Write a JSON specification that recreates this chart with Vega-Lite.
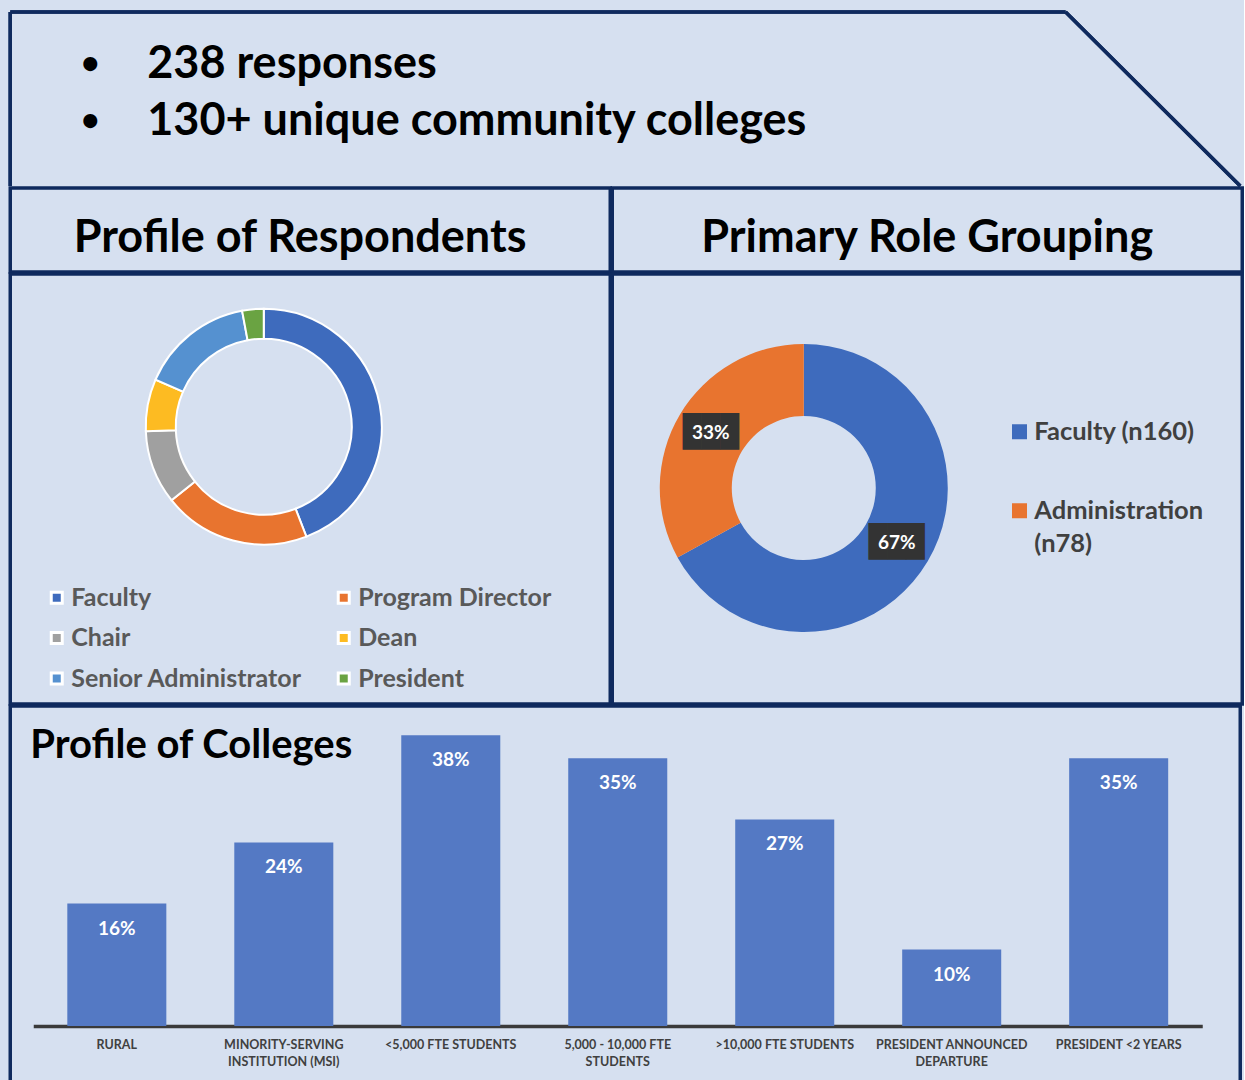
{
  "$schema": "https://vega.github.io/schema/vega-lite/v6.json",
  "background": "#d6e0f0",
  "padding": {"left": 8.25, "top": 10, "right": 0, "bottom": 0},
  "spacing": -5,
  "config": {
    "view": {"stroke": "#0f2a5e", "strokeWidth": 3.5},
    "font": "Lato",
    "text": {"font": "Lato"}
  },
  "resolve": {"scale": {"color": "independent"}, "legend": {"color": "independent"}},
  "vconcat": [
    {
      "width": 1230,
      "height": 174,
      "view": {"stroke": null},
      "data": {"values": [
        {"line": 1, "item": "238 responses"},
        {"line": 2, "item": "130+ unique community colleges"}
      ]},
      "layer": [
        {
          "mark": {"type": "rule", "color": "#0f2a5e", "strokeWidth": 3.5},
          "encoding": {
            "x": {"datum": 0, "type": "quantitative", "scale": {"domain": [0, 1]}, "axis": null},
            "x2": {"datum": 0.858},
            "y": {"datum": 1, "type": "quantitative", "scale": {"domain": [0, 1]}, "axis": null},
            "y2": {"datum": 1}
          }
        },
        {
          "mark": {"type": "rule", "color": "#0f2a5e", "strokeWidth": 3.5},
          "encoding": {
            "x": {"datum": 0, "type": "quantitative", "scale": {"domain": [0, 1]}, "axis": null},
            "x2": {"datum": 0},
            "y": {"datum": 0, "type": "quantitative", "scale": {"domain": [0, 1]}, "axis": null},
            "y2": {"datum": 1}
          }
        },
        {
          "mark": {"type": "rule", "color": "#0f2a5e", "strokeWidth": 3.5},
          "encoding": {
            "x": {"datum": 0.858, "type": "quantitative", "scale": {"domain": [0, 1]}, "axis": null},
            "x2": {"datum": 1},
            "y": {"datum": 1, "type": "quantitative", "scale": {"domain": [0, 1]}, "axis": null},
            "y2": {"datum": 0}
          }
        },
        {
          "mark": {"type": "text", "text": "•", "x": 80, "fontSize": 32, "fontWeight": "bold", "color": "#000"},
          "encoding": {
            "y": {"field": "line", "type": "quantitative", "scale": {"domain": [0.09, 3.143], "reverse": true}, "axis": null}
          }
        },
        {
          "mark": {"type": "text", "x": 137, "align": "left", "fontSize": 45, "fontWeight": "bold", "color": "#000"},
          "encoding": {
            "y": {"field": "line", "type": "quantitative", "scale": {"domain": [0.09, 3.143], "reverse": true}, "axis": null},
            "text": {"field": "item"}
          }
        }
      ],
      "resolve": {"scale": {"y": "independent"}}
    },
    {
      "hconcat": [
        {
          "width": 600,
          "height": 84,
          "data": {"values": [{"title": "Profile of Respondents"}]},
          "mark": {"type": "text", "fontSize": 45, "fontWeight": "bold", "color": "#000"},
          "encoding": {
            "x": {"datum": 0.483, "type": "quantitative", "scale": {"domain": [0, 1]}, "axis": null},
            "y": {"datum": 0.4, "type": "quantitative", "scale": {"domain": [0, 1]}, "axis": null},
            "text": {"field": "title"}
          }
        },
        {
          "width": 630,
          "height": 84,
          "data": {"values": [{"title": "Primary Role Grouping"}]},
          "mark": {"type": "text", "fontSize": 45, "fontWeight": "bold", "color": "#000"},
          "encoding": {
            "x": {"datum": 0.5, "type": "quantitative", "scale": {"domain": [0, 1]}, "axis": null},
            "y": {"datum": 0.4, "type": "quantitative", "scale": {"domain": [0, 1]}, "axis": null},
            "text": {"field": "title"}
          }
        }
      ],
      "spacing": -3.5
    },
    {
      "hconcat": [
        {
          "width": 600,
          "height": 430,
          "data": {"values": [
            {"role": "Faculty", "count": 105, "rank": 1},
            {"role": "Program Director", "count": 48, "rank": 2},
            {"role": "Chair", "count": 24, "rank": 3},
            {"role": "Dean", "count": 17, "rank": 4},
            {"role": "Senior Administrator", "count": 37, "rank": 5},
            {"role": "President", "count": 7, "rank": 6}
          ]},
          "mark": {"type": "arc", "innerRadius": 88, "outerRadius": 118, "stroke": "#ffffff", "strokeWidth": 2},
          "encoding": {
            "x": {"datum": 0.4225, "type": "quantitative", "scale": {"domain": [0, 1]}, "axis": null},
            "y": {"datum": 0.645, "type": "quantitative", "scale": {"domain": [0, 1]}, "axis": null},
            "theta": {"field": "count", "type": "quantitative"},
            "order": {"field": "rank"},
            "color": {
              "field": "role",
              "type": "nominal",
              "scale": {
                "domain": ["Faculty", "Program Director", "Chair", "Dean", "Senior Administrator", "President"],
                "range": ["#3e6bbd", "#e8742f", "#a0a0a0", "#fdbb22", "#5591d0", "#6aa342"]
              },
              "legend": {
                "title": null,
                "orient": "none",
                "direction": "horizontal",
                "legendX": 34,
                "legendY": 311,
                "columns": 2,
                "columnPadding": 28,
                "rowPadding": 14.5,
                "padding": 0,
                "symbolType": "square",
                "symbolSize": 121,
                "symbolStrokeColor": "#ffffff",
                "symbolStrokeWidth": 3,
                "labelFontSize": 25,
                "labelFont": "Lato",
                "labelFontWeight": "bold",
                "labelColor": "#595959",
                "labelLimit": 0,
                "labelOffset": 2
              }
            }
          }
        },
        {
          "width": 630,
          "height": 430,
          "data": {"values": [
            {"group": "Faculty (n160)", "share": 0.67, "rank": 1},
            {"group": "Administration (n78)", "share": 0.33, "rank": 2}
          ]},
          "encoding": {
            "x": {"datum": 0.304, "type": "quantitative", "scale": {"domain": [0, 1]}, "axis": null},
            "y": {"datum": 0.5023, "type": "quantitative", "scale": {"domain": [0, 1]}, "axis": null},
            "theta": {"field": "share", "type": "quantitative", "stack": true},
            "order": {"field": "rank"}
          },
          "layer": [
            {
              "mark": {"type": "arc", "innerRadius": 72, "outerRadius": 144},
              "encoding": {
                "color": {
                  "field": "group",
                  "type": "nominal",
                  "scale": {"domain": ["Faculty (n160)", "Administration (n78)"], "range": ["#3e6bbd", "#e8742f"]},
                  "legend": {
                    "title": null,
                    "orient": "none",
                    "legendX": 394.5,
                    "legendY": 145,
                    "padding": 0,
                    "rowPadding": 52,
                    "symbolType": "square",
                    "symbolSize": 225,
                    "symbolStrokeWidth": 0,
                    "labelFontSize": 25.5,
                    "labelFont": "Lato",
                    "labelFontWeight": "bold",
                    "labelColor": "#404040",
                    "labelLimit": 0,
                    "labelOffset": 2,
                    "labelExpr": "datum.label == 'Administration (n78)' ? ['Administration', '(n78)'] : datum.label",
                    "encode": {"labels": {"update": {"lineHeight": {"value": 33}}}}
                  }
                }
              }
            },
            {
              "mark": {"type": "text", "radius": 108, "text": "███", "font": "DejaVu Sans Mono", "fontSize": 31, "color": "#333333"}
            },
            {
              "mark": {"type": "text", "radius": 108, "fontSize": 19, "fontWeight": "bold", "color": "#ffffff"},
              "encoding": {"text": {"field": "share", "type": "quantitative", "format": ".0%"}}
            }
          ]
        }
      ],
      "spacing": -3.5,
      "resolve": {"scale": {"color": "independent"}, "legend": {"color": "independent"}}
    },
    {
      "width": 1230,
      "height": 380,
      "data": {"values": [
        {"category": "RURAL", "share": 0.16},
        {"category": "MINORITY-SERVING INSTITUTION (MSI)", "share": 0.24},
        {"category": "<5,000 FTE STUDENTS", "share": 0.38},
        {"category": "5,000 - 10,000 FTE STUDENTS", "share": 0.35},
        {"category": ">10,000 FTE STUDENTS", "share": 0.27},
        {"category": "PRESIDENT ANNOUNCED DEPARTURE", "share": 0.10},
        {"category": "PRESIDENT <2 YEARS", "share": 0.35}
      ]},
      "layer": [
        {
          "mark": {"type": "bar", "color": "#5479c4"},
          "encoding": {
            "x": {
              "field": "category",
              "type": "nominal",
              "sort": null,
              "scale": {"range": [23, 1192], "paddingInner": 0.407, "paddingOuter": 0.204},
              "axis": {
                "title": null,
                "orient": "bottom",
                "offset": -60,
                "domainColor": "#3a3a3a",
                "domainWidth": 3.5,
                "ticks": false,
                "labelFontSize": 12.5,
                "labelFont": "Lato",
                "labelFontWeight": "bold",
                "labelColor": "#404040",
                "labelPadding": 12,
                "labelAngle": 0,
                "labelLimit": 0,
                "labelLineHeight": 17,
                "labelBaseline": "top",
                "labelExpr": "datum.label == 'MINORITY-SERVING INSTITUTION (MSI)' ? ['MINORITY-SERVING', 'INSTITUTION (MSI)'] : datum.label == '5,000 - 10,000 FTE STUDENTS' ? ['5,000 - 10,000 FTE', 'STUDENTS'] : datum.label == 'PRESIDENT ANNOUNCED DEPARTURE' ? ['PRESIDENT ANNOUNCED', 'DEPARTURE'] : datum.label"
              }
            },
            "y": {"field": "share", "type": "quantitative", "scale": {"domain": [-0.0784, 0.4183], "nice": false, "zero": false}, "axis": null}
          }
        },
        {
          "mark": {"type": "text", "dy": 25, "fontSize": 19, "fontWeight": "bold", "color": "#ffffff"},
          "encoding": {
            "x": {"field": "category", "type": "nominal", "sort": null},
            "y": {"field": "share", "type": "quantitative"},
            "text": {"field": "share", "type": "quantitative", "format": ".0%"}
          }
        },
        {
          "data": {"values": [{"t": "Profile of Colleges"}]},
          "mark": {"type": "text", "x": 20, "y": 40, "align": "left", "fontSize": 40, "fontWeight": "bold", "color": "#000"},
          "encoding": {"text": {"field": "t"}}
        }
      ]
    }
  ]
}
